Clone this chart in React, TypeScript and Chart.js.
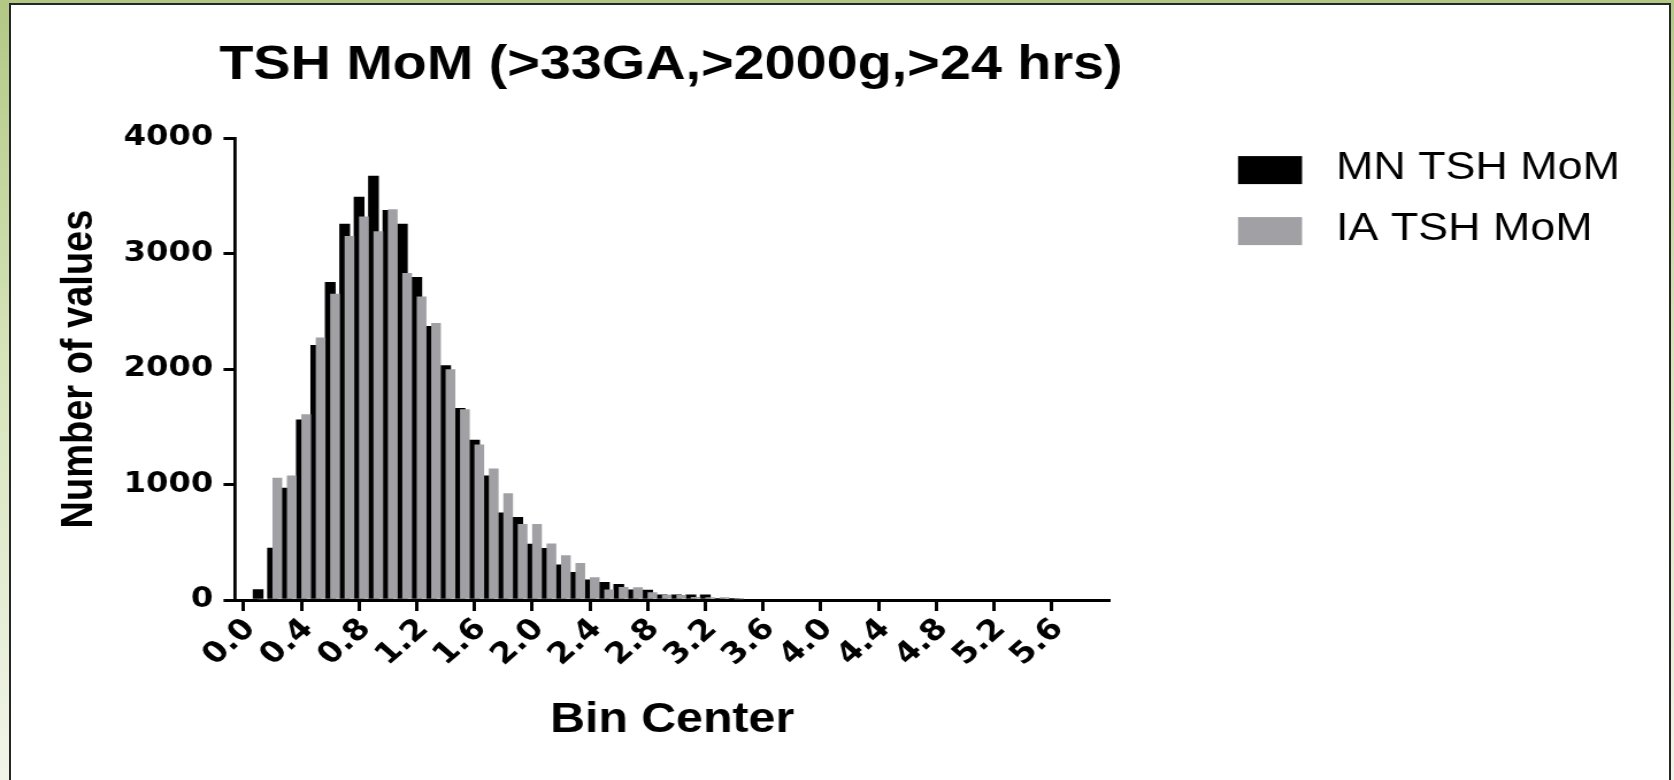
import React, { useEffect, useRef } from 'react';
import { Chart, registerables } from 'chart.js';

Chart.register(...registerables);

// ---------- data ----------
const TITLE = 'TSH MoM (>33GA,>2000g,>24 hrs)';
const X_TITLE = 'Bin Center';
const Y_TITLE = 'Number of values';
const SERIES_LABELS = ['MN TSH MoM', 'IA TSH MoM'];

const binCenters = [
  0.1, 0.2, 0.3, 0.4, 0.5, 0.6, 0.7, 0.8, 0.9, 1.0,
  1.1, 1.2, 1.3, 1.4, 1.5, 1.6, 1.7, 1.8, 1.9, 2.0,
  2.1, 2.2, 2.3, 2.4, 2.5, 2.6, 2.7, 2.8, 2.9, 3.0,
  3.1, 3.2, 3.3, 3.4,
];

const mnValues = [
  90, 450, 970, 1560, 2205, 2750, 3255, 3490, 3672, 3375,
  3255, 2795, 2370, 2030, 1660, 1385, 1075, 755, 715, 485,
  448, 304, 240, 174, 153, 136, 87, 85, 45, 45,
  45, 45, 12, 5,
];

const iaValues = [
  0, 1055, 1075, 1605, 2270, 2650, 3150, 3318, 3190, 3380,
  2830, 2625, 2395, 1995, 1648, 1343, 1135, 922, 655, 655,
  486, 385, 318, 195, 88, 110, 107, 64, 43, 40,
  23, 22, 20, 10,
];

const xTickValues = [0.0, 0.4, 0.8, 1.2, 1.6, 2.0, 2.4, 2.8, 3.2, 3.6, 4.0, 4.4, 4.8, 5.2, 5.6];
const yTickValues = [0, 1000, 2000, 3000, 4000];

// ---------- layout / style ----------
const PAGE_W = 1674;
const PAGE_H = 780;
const CANVAS_W = 1456;
const STRETCH = PAGE_W / CANVAS_W;
const X_MIN = -0.06;
const X_MAX = 6.0;
const PAIR_SHIFT = 0.0333; // second bar of each pair sits a little to the right
const SANS = "'Liberation Sans', Arial, Helvetica, sans-serif";
const TICK_FONT = "'DejaVu Sans', sans-serif";
const BLACK = '#000000';
const GREY = '#a0a0a5';

const sideLegend = {
  id: 'sideLegend',
  afterDraw(chart: any) {
    const { ctx, chartArea } = chart;
    ctx.save();
    chart.data.datasets.forEach((ds: any, i: number) => {
      const x = chartArea.right + 112;
      const y = chartArea.top + 18 + i * 61;
      ctx.fillStyle = ds.backgroundColor;
      ctx.fillRect(x, y, 55.7, 28);
      ctx.fillStyle = '#000';
      ctx.font = `39px ${SANS}`;
      ctx.textBaseline = 'middle';
      ctx.textAlign = 'left';
      ctx.fillText(ds.label, x + 85.2, y + 12);
    });
    ctx.restore();
  },
};

function HistogramChart() {
  const ref = useRef<HTMLCanvasElement | null>(null);

  useEffect(() => {
    if (!ref.current) return;
    const chart = new Chart(ref.current, {
      type: 'bar',
      data: {
        datasets: [
          {
            label: SERIES_LABELS[0],
            data: binCenters.map((x, i) => ({ x, y: mnValues[i] })),
            xAxisID: 'x',
            yAxisID: 'y',
            backgroundColor: BLACK,
            borderWidth: 0,
            barThickness: 8.7,
            grouped: false,
            order: 2,
          },
          {
            label: SERIES_LABELS[1],
            data: binCenters.map((x, i) => ({ x, y: iaValues[i] })),
            xAxisID: 'x2',
            yAxisID: 'y',
            backgroundColor: GREY,
            borderWidth: 0,
            barThickness: 7.8,
            grouped: false,
            order: 1,
          },
        ],
      } as any,
      options: {
        animation: false,
        responsive: true,
        maintainAspectRatio: false,
        events: [],
        layout: { padding: { left: 0, right: CANVAS_W - 1167.2, top: 0, bottom: 0 } },
        plugins: {
          legend: { display: false },
          tooltip: { enabled: false },
          title: {
            display: true,
            text: TITLE,
            fullSize: true,
            align: 'center',
            color: '#000',
            font: { family: SANS, size: 48.5, weight: 'bold', lineHeight: 1.2 },
            padding: { top: 36.4, bottom: 43.5 },
          },
        },
        scales: {
          x: {
            type: 'linear',
            position: 'bottom',
            offset: false,
            min: X_MIN,
            max: X_MAX,
            afterBuildTicks: (s: any) => {
              s.ticks = xTickValues.map((v) => ({ value: v }));
            },
            afterFit: (s: any) => {
              s.height = 180;
            },
            ticks: {
              autoSkip: false,
              minRotation: 45,
              maxRotation: 45,
              padding: 1,
              labelOffset: 6,
              color: '#000',
              font: { family: TICK_FONT, size: 29, weight: 'bold' },
              callback: (v: any) => Number(v).toFixed(1),
            },
            grid: { drawOnChartArea: false, drawTicks: true, tickLength: 11, color: '#000', lineWidth: 3, offset: false },
            border: { display: true, color: '#000', width: 3 },
            title: {
              display: true,
              text: X_TITLE,
              color: '#000',
              font: { family: SANS, size: 42, weight: 'bold', lineHeight: 1.2 },
              padding: { top: 0, bottom: 34 },
            },
          },
          x2: {
            type: 'linear',
            display: false,
            offset: false,
            min: X_MIN - PAIR_SHIFT,
            max: X_MAX - PAIR_SHIFT,
          },
          y: {
            type: 'linear',
            position: 'left',
            min: 0,
            max: 4000,
            afterBuildTicks: (s: any) => {
              s.ticks = yTickValues.map((v) => ({ value: v }));
            },
            afterFit: (s: any) => {
              s.width = 204.4;
            },
            ticks: {
              padding: 9,
              color: '#000',
              font: { family: TICK_FONT, size: 28, weight: 'bold' },
              callback: (v: any) => String(v),
            },
            grid: { drawOnChartArea: false, drawTicks: true, tickLength: 10, color: '#000', lineWidth: 3 },
            border: { display: true, color: '#000', width: 2.8 },
            title: {
              display: true,
              text: Y_TITLE,
              color: '#000',
              font: { family: SANS, size: 38, weight: 'bold', lineHeight: 1.2 },
              padding: { top: 47, bottom: 0 },
            },
          },
          // empty spacer on the right that keeps room for the legend column
          legendSpace: {
            type: 'linear',
            position: 'right',
            display: true,
            ticks: { display: false },
            grid: { display: false, drawTicks: false },
            border: { display: false },
            afterFit: (s: any) => {
              s.width = 202.4;
            },
          },
        },
      } as any,
      plugins: [sideLegend],
    });
    return () => chart.destroy();
  }, []);

  return (
    <div
      style={{
        position: 'absolute',
        left: 0,
        top: 0,
        width: CANVAS_W,
        height: PAGE_H,
        transform: `scaleX(${STRETCH})`,
        transformOrigin: '0 0',
      }}
    >
      <canvas ref={ref} />
    </div>
  );
}

export default function App() {
  return (
    <div
      style={{
        position: 'fixed',
        left: 0,
        top: 0,
        width: PAGE_W,
        height: PAGE_H,
        overflow: 'hidden',
        background: 'linear-gradient(to bottom, #b2c884 0%, #d6e3b9 45%, #f1f5e9 100%)',
      }}
    >
      <div
        style={{
          position: 'absolute',
          left: 9,
          top: 3,
          width: 1662,
          height: 820,
          background: '#ffffff',
          border: '2px solid #262626',
          boxSizing: 'border-box',
        }}
      />
      <HistogramChart />
    </div>
  );
}
